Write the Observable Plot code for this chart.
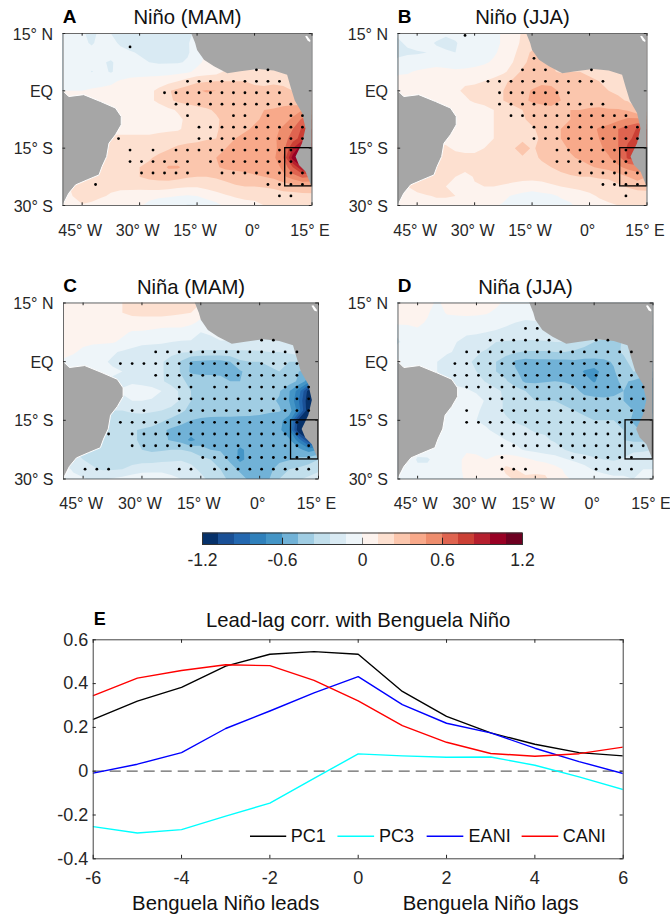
<!DOCTYPE html>
<html><head><meta charset="utf-8">
<script src="https://cdn.jsdelivr.net/npm/d3@7"></script>
<script src="https://cdn.jsdelivr.net/npm/@observablehq/plot@0.6"></script>
<style>
html,body{margin:0;padding:0;background:#fff}
#root{position:relative;width:670px;height:918px;overflow:hidden}
#root>div,#root>svg{position:absolute}
svg{font-family:"Liberation Sans",Arial,sans-serif;overflow:visible;background:transparent}
</style></head><body><div id="root"></div>
<script>
// ---- colour bins (levels of 0.12 K)
const palette = ["#06316a","#1a5096","#2468b0","#2f80bb","#4495c6","#71b2d7","#a0cde3","#c2dfec","#d9eaf3","#eef5f9","#fdf3ee","#fde0d0","#fbc6ad","#f8a98a","#ee8d6d","#df6450","#cb4035","#b51f2e","#980024","#6d0021"];
const levels = [-10,-9,-8,-7,-6,-5,-4,-3,-2,-1,0,1,2,3,4,5,6,7,8,9];
const levelEdges = levels.slice(1);
const barTicks = [-10,-5,0,5,10];
const barLabels = ["-1.2","-0.6","0","0.6","1.2"];

// ---- map axes
const lonTicks = [-45,-30,-15,0,15];
const lonLabels = ["45° W","30° W","15° W","0°","15° E"];
const latTicks = [15,0,-15,-30];
const latLabels = ["15° N","EQ","15° S","30° S"];

// ---- land outlines (lon, lat)
const africaLon = [20,-16.7,-15.5,-15,-13.2,-10.6,-7.1,-3.7,1,5,8.5,9.4,10.5,12.4,13.3,12.4,10.7,11.6,13.3,15,20];
const africaLat = [15.5,15.5,12.5,10.7,8.1,6.4,4.6,5.1,5.7,5.3,4.2,1.1,-2.5,-5.8,-9.8,-13.7,-17.2,-19.4,-21.1,-25.3,-25.3];
const brazilLon = [-52,-49.8,-48.5,-44.6,-40.2,-36.3,-34.8,-34.8,-36.3,-38,-38.6,-39.8,-40.6,-43.7,-46.7,-48.5,-49.8,-50.5,-52];
const brazilLat = [-0.2,-0.2,-1.5,-1,-2.8,-4.5,-6.7,-8.9,-11.5,-13.7,-17.2,-19.8,-22,-23.3,-24.6,-26.8,-29.4,-31,-31];
const lakeLon = [13.2,13.7,14.6,14.5,13.9];
const lakeLat = [14.3,14.4,13.2,12.8,13.1];

// ---- anomaly fields, one row per latitude 15N..30S every 2.5 deg, one column per longitude 50W..15E every 2.5 deg, in 0.12 K levels
const fieldA = [
[-.4,-.5,-.9,-1.2,-.8,-1,-1.2,-1.3,-1.3,-1.3,-1.3,-1.3,-1.3,-1.2,-.8,0,0,0,0,0,0,0,0,0,0,0,0],
[-.4,-.5,-.8,-1.1,-.7,-.8,-1.1,-1.4,-1.3,-1.3,-1.3,-1.3,-1.2,-1.1,-.5,0,0,0,0,0,0,0,0,0,0,0,0],
[-.3,-.4,-.6,-.7,-.6,-.6,-.8,-.9,-1.1,-1.2,-1.2,-1.2,-1.2,-1.1,-.6,.1,.2,.2,.2,.2,.2,.2,.2,.2,.2,.2,.2],
[-.3,-.4,-.5,-.6,-.9,-1.1,-.7,-.7,-.8,-1,-1.1,-1.1,-1.1,-.9,-.3,.3,.4,.4,.4,.4,.4,.4,.4,.4,.4,.4,.4],
[-.3,-.4,-.5,-1.05,-.7,-1.1,-.6,-.5,-.5,-.5,-.5,-.4,-.3,-.2,.3,.5,.6,1.2,1.3,1.3,1.1,1.3,1.2,.9,.9,.8,.5],
[-.2,-.2,-.3,-.3,-.3,-.2,.1,.3,.4,.5,.6,.7,1,1.5,1.8,1.9,2,2,2,2,1.8,1.8,1.9,1.8,1.4,1,.5],
[0,0,0,.1,.2,.3,.4,.5,.6,.8,1.2,1.9,2.3,2.5,2.9,3.1,3,2.7,2.5,2.4,2.3,2.2,2.2,2.2,2,1.5,1],
[0,0,.1,.2,.2,.2,.4,.5,.6,.8,1.2,1.8,2.2,2.4,2.5,2.5,2.5,2.5,2.4,2.4,2.4,2.4,2.4,2.5,2.5,2,1.5],
[.3,.3,.3,.3,.3,.3,.3,.4,.5,.5,.6,.8,1.1,1.4,1.7,1.9,2.1,2.4,2.6,2.7,2.9,3,3.1,3.3,3.5,4,3],
[.3,.3,.3,.3,.3,.3,.2,.2,.2,.2,.3,.4,.8,1.2,1.4,1.6,1.9,2.2,2.5,2.7,2.9,3.1,3.3,3.6,4.2,5.2,5],
[.7,.7,.7,.7,.7,.7,.7,.7,.7,.7,.8,.8,.9,1.2,1.4,1.7,1.9,2.3,2.7,2.9,3.1,3.4,3.7,4.2,5,6.2,6],
[1.2,1.2,1.2,1.2,1.2,1.2,1.2,1.2,1.2,1.2,1.3,1.5,1.5,1.6,1.7,1.9,2,2.6,3,3.2,3.3,3.5,3.8,4.5,5.5,6.5,6],
[1.2,1.2,1.2,1.2,1.2,1.3,1.3,1.4,1.4,1.5,1.7,1.9,2.2,2.4,2.5,2.6,2.7,3,3.3,3.4,3.4,3.5,3.7,4.6,7,9,8],
[1.3,1.3,1.3,1.3,1.3,1.4,1.5,1.6,1.7,1.9,2.2,2.5,2.5,2.6,2.7,2.8,3,3.2,3.4,3.4,3.4,3.5,3.8,5,8.5,10,9],
[1.2,1.2,1.2,1.2,1.3,1.4,1.5,1.8,2,2.2,2.5,3.1,3.1,2.7,2.6,2.6,2.9,3.2,3.3,3.3,3.3,3.4,3.6,4.2,6,8,8],
[1,1.2,1,1.1,1.2,1.3,1.5,1.7,2,2.2,2.3,2.4,2.3,2.1,2,2,2.1,2.3,2.5,2.7,2.9,3,3.2,3.8,4.5,5.2,5],
[.8,1.1,1.6,1.6,1.3,1.2,1.2,1.3,1.4,1.5,1.5,1.4,1.2,1.1,1.1,1.3,1.5,1.7,1.9,2,2,2.1,2.2,2.4,2.6,2.9,3],
[.4,1,1.5,1.3,1.1,.9,.7,.5,.3,.2,.2,.1,0,-.1,0,.3,.6,.9,1.1,1.2,1.2,1.3,1.5,1.6,1.6,1.6,1.6],
[.2,.6,.9,.8,.6,.4,.3,.1,.1,-.2,-.6,-.7,-.8,-1.1,-1.1,-.6,-.3,.2,.5,.7,.8,1,1.2,1.2,1.1,1.1,1.1]];
const fieldB = [
[-.9,-.6,-.5,-.4,-.6,-.9,-.7,-.5,-.4,-.3,-.2,.1,.6,1.1,1,1,1,1,1,1,1,1,1,1,1,1,1],
[-1.1,-.9,-.6,-.7,-1.1,-1.2,-1.1,-.6,-.4,-.3,-.2,.1,.6,1.2,1.3,1.3,1.3,1.3,1.3,1.3,1.3,1.3,1.3,1.3,1.3,1.3,1.3],
[-1.1,-1.1,-1.1,-1,-.7,-.9,-1,-.5,-.3,-.2,-.1,.2,.8,1.4,2.2,2.2,2,2,2,2,2,2,2,2,2,2,2],
[-.9,-.7,-.5,-.4,-.3,-.3,-.3,-.2,-.2,-.1,.1,.4,1,1.7,2.4,2.4,2,1.8,1.8,1.8,1.8,1.8,1.5,1.5,1.5,1.5,1.5],
[-.1,-.1,.1,.2,.3,.2,.1,.1,.2,.3,.5,.8,1.4,2.2,2.4,2.3,2.1,1.9,2,2,1.9,1.9,1.3,1,.9,.9,.9],
[.2,.3,.5,.7,.6,.6,.7,.9,.9,1,1.3,1.8,2.2,2.3,2.5,2.8,2.8,2.7,2.3,2.2,2.1,2,1.7,1.5,1.1,1,.9],
[.3,.3,.4,.5,.6,.7,.9,1.1,1.2,1.2,1.5,2,2.3,2.6,3.1,3.3,3.2,2.9,2.5,2.3,2.2,2.1,2,1.8,1.2,1,1],
[.3,.3,.3,.3,.3,.4,.6,.9,1.1,1.1,1.4,2,2.4,2.7,3.2,3.3,3.3,3,2.9,2.7,2.6,2.5,2.3,2.2,1.9,1.4,1.2],
[.3,.3,.3,.3,.3,.3,.4,.5,.7,.9,1,1.2,1.6,2,2.3,2.6,2.8,2.9,3,3,3.1,3.2,3.1,3.1,2.9,2.1,1.5],
[.3,.3,.3,.3,.3,.3,.3,.4,.6,.8,1,1.3,1.6,1.9,2.2,2.5,2.7,2.8,3,3,3.3,3.5,3.3,3.8,4.2,4.3,4],
[.6,.6,.6,.6,.6,.6,.6,.7,.8,.8,1,1.2,1.4,1.7,1.9,2.2,2.5,3,3.3,3.5,3.7,4.1,4.6,5,5.5,6.1,6],
[.8,.8,.8,.8,.8,.8,.8,.8,.9,.9,1,1.1,1.2,1.8,1.8,2.1,2.5,3,3.2,3.5,3.7,4,4.5,5,5.8,6.3,6],
[1.2,1.2,1.2,1.2,1.2,1.1,.9,.9,.9,1,1.1,1.4,1.9,2.4,1.9,2.2,2.5,2.8,3.1,3.2,3.5,3.8,4.3,5,6.2,6.8,6],
[1.2,1.2,1.2,1.2,1.2,1.3,1.2,1.1,1.1,1.1,1.2,1.5,1.7,1.9,1.8,2.1,2.3,2.6,2.9,3.1,3.3,3.5,3.9,4.6,6.2,6.5,6],
[1.2,1.2,1.2,1.2,1.3,1.4,1.5,1.4,1.4,1.8,1.6,1.5,1.4,1.5,1.6,1.8,2,2.2,2.4,2.7,2.9,3.1,3.3,3.8,4.3,4.6,4.5],
[1,1.3,1,1,1.1,1.2,1,.6,1.1,1.4,1.4,1.4,1.3,1.3,1.3,1.4,1.6,1.8,1.9,2,2,2.1,2.2,2.5,3,3.4,3],
[.6,1,1.5,2,1.4,1,.8,.7,.9,1,1,.9,.8,.6,.5,.6,.8,1,1.2,1.3,1.4,1.5,1.5,1.8,2.1,2.4,2.5],
[.4,.6,.7,.9,1.1,1.1,1,.7,.5,.5,.4,.2,-.1,-.3,-.5,-.3,-.2,.1,.2,.5,.8,1.1,1.2,1.3,1.4,1.4,1.4],
[.2,.3,.4,.5,.6,.6,.5,.3,.2,.1,.1,-.1,-.4,-.6,-1.1,-.7,-.5,-.3,-.1,.2,.5,.7,.9,1,1,1,1]];
const fieldC = [
[.3,.3,.3,.3,.5,.7,1,1.2,1.3,1.3,1.3,1.3,1.2,1.2,1,.5,0,0,0,0,0,0,0,0,0,0,0],
[.3,.3,.3,.4,.5,.7,1,1.2,1.3,1.3,1.3,1.2,1.1,1,.3,-.3,-.5,-.5,-.5,-.5,-.5,-.5,-.5,-.5,-.5,-.5,-.5],
[.3,.3,.3,.4,.5,.6,.8,.6,.5,.5,.5,.5,.4,.2,-.2,-.5,-.5,-.5,-.5,-.5,-.5,-.5,-.5,-.5,-.5,-.5,-.5],
[.3,.3,.4,.4,.4,.4,.2,-.1,-.1,-.2,-.4,-.5,-.4,-.6,-1,-.9,-.5,-.5,-.8,-.8,-.8,-.8,-.8,-.8,-.8,-.8,-.8],
[.3,.3,.2,.1,.1,.1,-.2,-.7,-.9,-.9,-.9,-1,-1.1,-1.1,-1.1,-1.2,-1.1,-1.1,-1.5,-1.4,-1.3,-1.4,-1.5,-1.2,-1,-1,-1],
[.2,.1,-.2,-.3,-.5,-.9,-1.1,-1.2,-1.2,-1.3,-1.5,-1.7,-1.9,-2,-2.2,-2.2,-2.2,-2.2,-2.1,-2.1,-2.1,-2,-2,-1.8,-1.5,-1.5,-1.5],
[-.1,-.3,-.5,-.9,-.9,-1.1,-1.2,-1.3,-1.5,-1.7,-1.9,-2.4,-3.1,-4.1,-4.2,-4.3,-4.3,-4,-3.2,-3,-3,-2.9,-2.9,-3,-3,-2.5,-2],
[-.3,-.4,-.5,-.7,-.8,-.9,-1,-1.2,-1.4,-1.6,-1.9,-2.4,-3.1,-4.2,-4.4,-4.4,-4.4,-4.3,-4.1,-3.7,-3.2,-3.1,-3,-3.2,-4,-4.5,-4],
[-.8,-.9,-1,-1.1,-1.1,-1.1,-1.2,-1.2,-1.4,-1.6,-1.9,-2.3,-2.8,-3.3,-3.3,-3.3,-3.5,-4,-4,-3.6,-3.2,-3.1,-3.2,-3.5,-4.2,-5.5,-7.5],
[-1,-1,-1,-1,-1,-1,-.9,-.5,-.4,-.6,-1,-1.6,-2.2,-3,-3.2,-3.2,-3.2,-3.2,-3.2,-3.3,-3.5,-3.6,-3.9,-4.9,-6.5,-9.5,-9],
[-1.3,-1.3,-1.3,-1.3,-1.3,-1.3,-1.2,-1,-1,-1.1,-1.3,-1.7,-2.1,-3,-3.3,-3.4,-3.2,-3.1,-3.2,-3.5,-3.8,-3.8,-4.1,-5,-7,-9.9,-9.9],
[-2,-2,-2,-2,-2,-2,-2,-1.9,-1.8,-1.9,-2,-2.2,-2.8,-3.3,-3.4,-3.4,-3.3,-3.3,-3.3,-3.4,-3.6,-3.8,-3.9,-4.5,-6.5,-9.9,-9.9],
[-2.5,-2.5,-2.5,-2.5,-2.3,-2.3,-2.3,-2.3,-2.4,-2.5,-2.8,-3.3,-3.6,-4,-4.2,-4.3,-4.4,-4.4,-4.5,-4.5,-4.5,-4.6,-4.7,-5.5,-9.5,-9.9,-9.9],
[-2.5,-2.5,-2.5,-2.5,-2.6,-2.5,-2.6,-2.9,-3.1,-3.3,-3.8,-4.2,-4.5,-4.4,-4.4,-4.4,-4.5,-4.5,-4.5,-4.5,-4.5,-4.6,-4.8,-5.8,-9.9,-9.9,-9.9],
[-2,-2.3,-2.4,-2.4,-2.4,-2.5,-2.7,-2.9,-3.1,-3.4,-3.8,-4.1,-4.4,-5.3,-4.6,-4.3,-4.4,-4.4,-4.4,-4.4,-4.4,-4.5,-4.5,-4.8,-6.5,-9,-9],
[-1.5,-2,-2.1,-2.2,-2.2,-2.4,-2.6,-2.8,-3,-3.2,-3.1,-3,-3,-3.2,-3.6,-4,-4.1,-4.4,-5.2,-4.7,-4.4,-4.4,-4.4,-4.5,-4.7,-5.5,-5],
[-1.3,-1.5,-2,-2.2,-2.2,-2.2,-2.3,-2.4,-2.4,-2.4,-2.3,-2.2,-2.1,-2.3,-2.7,-3,-3.5,-4.2,-5.3,-4.6,-4.4,-4.4,-4.3,-4.1,-3.8,-3.5,-3],
[-.7,-1.1,-1.5,-1.9,-2.1,-2.1,-2,-1.7,-1.4,-1.3,-1.2,-1.3,-1.4,-1.7,-2.2,-2.7,-3,-3.6,-4.2,-4.4,-4.4,-4.3,-3.5,-3,-2.8,-2.5,-2.2],
[-.5,-.8,-.9,-1.2,-1.1,-.9,-.7,-.4,-.3,-.4,-.6,-.8,-1,-1.2,-1.7,-2.3,-2.7,-3.2,-3.6,-4.2,-4.4,-4,-3,-2.5,-2.1,-1.8,-1.5]];
const fieldD = [
[.3,.3,.3,.2,-.1,.2,.2,.3,.3,.3,.2,-.2,-.4,-.5,-.3,-.3,-.3,-.3,-.3,-.3,-.3,-.3,-.3,-.3,-.3,-.3,-.3],
[.3,.3,.2,.1,-.4,.1,.2,.2,.2,.1,-.2,-.5,-.6,-.7,-.5,-.5,-.5,-.5,-.5,-.5,-.5,-.5,-.5,-.5,-.5,-.5,-.5],
[.2,.2,.2,-.1,-.5,-.5,-.5,-.4,-.5,-.6,-.7,-.8,-1,-1.1,-1.1,-.8,-.8,-.8,-.8,-.8,-.8,-.8,-.8,-.8,-.8,-.8,-.8],
[-.8,-.6,-.2,-.3,-.5,-.6,-.8,-.9,-.9,-1,-1.1,-1.3,-1.5,-1.7,-1.6,-1.4,-1.2,-1.2,-1.5,-1.5,-1.5,-1.5,-1.5,-1.5,-1.5,-1.5,-1.5],
[-1.1,-.7,-.5,-.5,-.7,-.9,-1,-1.2,-1.4,-1.7,-2,-2.1,-2.1,-2.1,-2.1,-2.1,-2,-2,-2.5,-2.7,-3,-3.7,-3.6,-2.8,-2,-2,-2],
[-.3,-.5,-.6,-.7,-.8,-.9,-1.1,-1.4,-1.9,-2.1,-2.4,-2.7,-2.9,-3.1,-3.1,-3.1,-3,-3,-3.1,-3.3,-3.4,-3.4,-3.2,-2.9,-2.3,-2,-2],
[.1,-.2,-.6,-.9,-1,-1.3,-1.6,-1.9,-2.1,-2.6,-3,-3.4,-4.2,-4.4,-4.3,-4.3,-4.3,-4.3,-4.2,-4.3,-4.3,-4.2,-3.9,-3.2,-2.7,-2.5,-2],
[-.8,-.9,-1,-1,-1,-1.1,-1.3,-1.6,-2,-2.5,-3,-3.3,-3.9,-4.4,-4.5,-4.4,-4.4,-4.4,-4.5,-5.1,-5.4,-4.6,-4.1,-3.4,-3,-3,-3],
[-1,-1,-1,-1,-1,-1,-1.1,-1.3,-1.6,-2.1,-2.5,-2.9,-3.5,-4.2,-4.2,-4.1,-4,-4.1,-4.2,-4.6,-5.1,-4.5,-4.1,-3.9,-4.1,-4.8,-4.5],
[-1,-1,-1,-1,-1,-1,-.9,-.9,-1.1,-1.3,-1.8,-2.2,-2.6,-3,-3.2,-3.2,-3.3,-3.4,-3.8,-4.2,-4.3,-4.2,-4.1,-4,-4.1,-4.3,-4.8],
[-1,-1,-1,-1,-1,-1,-.8,-.5,-.7,-1.1,-1.6,-2.2,-2.6,-2.9,-3,-3,-3,-3.1,-3.5,-3.7,-3.8,-3.9,-3.9,-4,-4.2,-4.5,-4.3],
[-1,-1,-1,-1,-1,-1,-.9,-.8,-.9,-1.2,-1.8,-2.1,-2.3,-2.5,-2.7,-2.7,-2.8,-2.9,-3,-3.1,-3.2,-3.3,-3.3,-3.5,-4,-4.5,-4.2],
[-1,-1,-1,-1,-1,-.9,-.8,-.8,-1,-1.2,-1.5,-1.9,-2.1,-2.2,-2.2,-2.3,-2.5,-2.7,-2.8,-2.9,-3,-3,-3,-3.2,-4.3,-4,-3.5],
[-1,-1,-1,-1,-.9,-.7,-.6,-.6,-.7,-.9,-1.2,-1.5,-1.7,-1.9,-2.1,-2.1,-2.1,-2.3,-2.5,-2.7,-2.8,-2.9,-2.9,-3,-3.4,-4.4,-4],
[-.8,-.8,-.8,-.8,-.8,-.7,-.6,-.5,-.5,-.6,-.7,-1,-1.2,-1.5,-1.7,-1.9,-2.1,-2.2,-2.4,-2.5,-2.6,-2.8,-2.9,-3,-3.2,-3.2,-3],
[-.3,-.5,-.7,-.6,-.4,-.3,-.2,-.1,-.1,-.1,-.3,-.6,-.8,-1.1,-1.3,-1.5,-1.7,-2,-2.4,-2.6,-2.7,-2.6,-2.5,-2.4,-2.2,-2.2,-2],
[-.2,-.5,-1.1,-1.1,-.7,-.4,-.2,.2,.1,0,.2,.6,.5,.2,-.1,-.3,-.5,-.9,-1.2,-1.4,-1.8,-2,-2.1,-1.9,-1.5,-1.3,-1.2],
[-.4,-.6,-.8,-.8,-.6,-.4,-.2,.2,.3,.3,.5,1.2,1,.7,.7,.7,.3,-.1,-.3,-.7,-1.1,-1.3,-1.4,-1.2,-1.1,-1,-1],
[-.3,-.4,-.5,-.5,-.4,-.3,-.2,.1,.2,.3,.5,.8,1.1,1.2,1.3,1.2,.5,.1,-.1,-.3,-.5,-.6,-.8,-.9,-1,-1,-1]];

// ---- significance stipples: [latitude, lon-runs]; lon = 0.5 + 3k on the 3-degree grid
const dotsA = [[11.5,[[-11,-11]]],[5.5,[[0,1]]],[2.5,[[-6,2]]],[-.5,[[-8,2]]],[-3.5,[[-7,3]]],[-6.5,[[-6,-6],[-2,-1],[1,1],[3,4]]],[-9.5,[[-5,4]]],[-12.5,[[-12,-12],[-5,4]]],[-15.5,[[-11,-11],[-9,-9],[-7,3]]],[-18.5,[[-11,-6],[-4,3]]],[-21.5,[[-10,-6],[-3,4]]],[-24.5,[[-14,-14],[1,4]]],[-27.5,[[2,3]]]];
const dotsB = [[14.5,[[-11,-11]]],[8.5,[[-5,-5]]],[5.5,[[-6,-4],[0,0]]],[2.5,[[-9,1]]],[-.5,[[-8,-2]]],[-3.5,[[-8,1]]],[-6.5,[[-7,3]]],[-9.5,[[-5,4]]],[-12.5,[[-5,4]]],[-15.5,[[-3,3]]],[-18.5,[[-3,3]]],[-21.5,[[-1,4]]],[-24.5,[[1,4]]],[-27.5,[[3,3]]]];
const dotsC = [[5.5,[[0,1]]],[2.5,[[-9,3]]],[-.5,[[-12,3]]],[-3.5,[[-9,3]]],[-6.5,[[-7,-6],[-4,-3],[-1,4]]],[-9.5,[[-7,4]]],[-12.5,[[-11,-10],[-7,4]]],[-15.5,[[-12,3]]],[-18.5,[[-13,-13],[-11,3]]],[-21.5,[[-11,4]]],[-24.5,[[-5,4]]],[-27.5,[[-15,-13],[-7,-6],[-4,4]]]];
const dotsD = [[8.5,[[-6,-5]]],[5.5,[[-9,-4],[0,1]]],[2.5,[[-11,3]]],[-.5,[[-12,2]]],[-3.5,[[-12,3]]],[-6.5,[[-11,4]]],[-9.5,[[-9,4]]],[-12.5,[[-11,-11],[-8,4]]],[-15.5,[[-11,3]]],[-18.5,[[-8,3]]],[-21.5,[[-8,4]]],[-24.5,[[-8,-8],[-2,3]]],[-27.5,[[-8,-6],[0,3]]]];

// ---- lead-lag correlations
const lags = [-6,-5,-4,-3,-2,-1,0,1,2,3,4,5,6];
const pc1  = [.237,.32,.383,.48,.534,.546,.534,.364,.25,.175,.123,.085,.07];
const pc3  = [-.253,-.282,-.267,-.205,-.146,-.033,.079,.07,.064,.065,.027,-.026,-.084];
const eani = [-.009,.032,.085,.195,.275,.358,.432,.304,.219,.175,.105,.044,-.011];
const cani = [.345,.425,.46,.486,.482,.415,.321,.208,.132,.081,.068,.08,.11];
const seriesNames = ["PC1","PC3","EANI","CANI"];
const seriesColors = ["#000000","#00ffff","#0000ff","#ff0000"];
const lagTicks = [-6,-4,-2,0,2,4,6];
const corrTicks = [-.4,-.2,0,.2,.4,.6];
const corrLabels = ["-0.4","-0.2","0","0.2","0.4","0.6"];

// ---- layout helpers
const root = document.getElementById("root");
const INK = "#262626";
function place(el, left, top){ el.style.left = left+"px"; el.style.top = top+"px"; root.appendChild(el); }
const poly = (lons, lats) => lons.map((x,i)=>({x, y:lats[i]}));
const expand = rows => rows.flatMap(([lat,runs]) => runs.flatMap(([a,b]) => d3.range(a,b+1).map(k=>({x:.5+3*k, y:lat}))));

function mapPanel({field, dots, title, letter, left, top, w, h, titleX}){
  const pad = {r:20, b:40};
  const rows = field.length, cols = field[0].length;
  return Plot.plot({
    width: left+w+pad.r, height: top+h+pad.b,
    marginLeft:left, marginTop:top, marginRight:pad.r, marginBottom:pad.b,
    x:{domain:[-50,15], axis:null},
    y:{domain:[-30,15], axis:null},
    color:{type:"threshold", domain:levelEdges, range:palette},
    style:{background:"transparent", fontFamily:'"Liberation Sans",Arial,sans-serif'},
    marks:[
      Plot.contour(field.flat(), {width:cols, height:rows, x1:-51.25, x2:16.25, y1:16.25, y2:-31.25,
        fill:Plot.identity, thresholds:levels, clip:true}),
      Plot.line(poly(africaLon,africaLat), {x:"x", y:"y", fill:"#a6a6a6", stroke:"none", clip:true}),
      Plot.line(poly(brazilLon,brazilLat), {x:"x", y:"y", fill:"#a6a6a6", stroke:"#ffffff", strokeWidth:1, clip:true}),
      Plot.line(poly(lakeLon,lakeLat), {x:"x", y:"y", fill:"#ffffff", stroke:"none", clip:true}),
      Plot.dot(expand(dots), {x:"x", y:"y", r:1.4, fill:"#000000", stroke:"none"}),
      Plot.rect([0], {x1:()=>8, x2:()=>15, y1:()=>-25, y2:()=>-15, fill:"none", stroke:"#000000", strokeWidth:1.3}),
      Plot.frame({stroke:"#6a6a6a", strokeWidth:1}),
      Plot.ruleX(lonTicks, {x:d=>d, y1:-30, y2:-29.3, stroke:INK}),
      Plot.ruleX(lonTicks, {x:d=>d, y1:15, y2:14.3, stroke:INK}),
      Plot.ruleY(latTicks, {y:d=>d, x1:-50, x2:-49.3, stroke:INK}),
      Plot.ruleY(latTicks, {y:d=>d, x1:15, x2:14.3, stroke:INK}),
      Plot.text(lonTicks, {x:d=>d, y:()=>-30, dy:25, dx:-2, text:(d,i)=>lonLabels[i], fontSize:16, fill:INK}),
      Plot.text(latTicks, {x:()=>-50, y:d=>d, dx:-10, dy:1, text:(d,i)=>latLabels[i], textAnchor:"end", fontSize:16, fill:INK}),
      Plot.text([title], {x:()=>titleX, y:()=>15, dy:-16, text:d=>d, fontSize:20.3, fill:"#111"}),
      Plot.text([letter], {x:()=>-48.3, y:()=>15, dy:-17, text:d=>d, fontSize:19, fontWeight:"bold", fill:"#000", textAnchor:"middle"})
    ]
  });
}

place(mapPanel({field:fieldA, dots:dotsA, title:"Niño (MAM)", letter:"A", left:62.5, top:33, w:249, h:172, titleX:-17.5}), 0, 0);
place(mapPanel({field:fieldB, dots:dotsB, title:"Niño (JJA)", letter:"B", left:62.5, top:33, w:249, h:172, titleX:-17.5}), 335, 0);
place(mapPanel({field:fieldC, dots:dotsC, title:"Niña (MAM)", letter:"C", left:63, top:32.5, w:255, h:176, titleX:-17.5}), 0, 270);
place(mapPanel({field:fieldD, dots:dotsD, title:"Niña (JJA)", letter:"D", left:62.5, top:32.5, w:255, h:176, titleX:-17.5}), 335, 270);

// ---- colour bar
const bar = Plot.plot({
  width:320+40, height:11.5+30, marginLeft:20, marginRight:20, marginTop:0.5, marginBottom:29.5,
  x:{domain:[-10,10], axis:null},
  y:{domain:[0,1], axis:null},
  color:{type:"threshold", domain:levelEdges, range:palette},
  style:{background:"transparent", fontFamily:'"Liberation Sans",Arial,sans-serif'},
  marks:[
    Plot.rect(levels, {x1:d=>d, x2:d=>d+1, y1:()=>0, y2:()=>1, fill:d=>d}),
    Plot.ruleX([-5,5], {x:d=>d, y1:0, y2:.55, stroke:"#222"}),
    Plot.ruleX([0], {x:d=>d, y1:0, y2:.55, stroke:"#777"}),
    Plot.frame({stroke:"#333", strokeWidth:1}),
    Plot.text(barTicks, {x:d=>d, y:()=>0, dy:16, text:(d,i)=>barLabels[i], fontSize:17.5, fill:INK})
  ]
});
place(bar, 182, 532);

// ---- lead-lag panel
const long = [pc1,pc3,eani,cani].flatMap((v,s)=>v.map((c,i)=>({lag:lags[i], c, s:seriesNames[s]})));
const legendX1 = [-2.45,-.47,1.55,3.7];
const legendX2 = [-1.63,.36,2.38,4.53];
const legendTx = [-1.53,.47,2.5,4.63];
const lead = Plot.plot({
  width:670, height:918-620, marginLeft:92.7, marginRight:670-622.7, marginTop:19.3, marginBottom:918-858.3,
  x:{domain:[-6,6], axis:null},
  y:{domain:[-.4,.6], axis:null},
  color:{type:"identity"},
  style:{background:"transparent", fontFamily:'"Liberation Sans",Arial,sans-serif'},
  marks:[
    Plot.ruleY([0], {y:d=>d, stroke:"#666", strokeWidth:1.2, strokeDasharray:"11 6"}),
    ...seriesNames.map((n,i)=>Plot.line(long.filter(d=>d.s===n), {x:"lag", y:"c", stroke:seriesColors[i], strokeWidth:1.4, clip:true})),
    Plot.frame({stroke:"#444", strokeWidth:1}),
    Plot.ruleX(lagTicks, {x:d=>d, y1:-.4, y2:-.384, stroke:INK}),
    Plot.ruleX(lagTicks, {x:d=>d, y1:.6, y2:.584, stroke:INK}),
    Plot.ruleY(corrTicks, {y:d=>d, x1:-6, x2:-5.93, stroke:INK}),
    Plot.ruleY(corrTicks, {y:d=>d, x1:6, x2:5.93, stroke:INK}),
    Plot.text(lagTicks, {x:d=>d, y:()=>-.4, dy:19, text:d=>String(d), fontSize:18, fill:INK}),
    Plot.text(corrTicks, {x:()=>-6, y:d=>d, dx:-5, text:(d,i)=>corrLabels[i], textAnchor:"end", fontSize:18, fill:INK}),
    Plot.link(seriesNames, {x1:(d,i)=>legendX1[i], x2:(d,i)=>legendX2[i], y1:()=>-.297, y2:()=>-.297, stroke:(d,i)=>seriesColors[i], strokeWidth:1.4}),
    Plot.text(seriesNames, {x:(d,i)=>legendTx[i], y:()=>-.297, text:d=>d, textAnchor:"start", fontSize:18, fill:"#111"}),
    Plot.text(["Lead-lag corr. with Benguela Niño"], {x:()=>0, y:()=>.6, dy:-19, text:d=>d, fontSize:20.3, fill:"#111"}),
    Plot.text(["E"], {x:()=>-5.85, y:()=>.6, dy:-21, text:d=>d, fontSize:18, fontWeight:"bold", fill:"#000", textAnchor:"middle"}),
    Plot.text(["Benguela Niño leads"], {x:()=>-3, y:()=>-.4, dy:45, text:d=>d, fontSize:20.3, fill:"#111"}),
    Plot.text(["Benguela Niño lags"], {x:()=>3, y:()=>-.4, dy:45, text:d=>d, fontSize:20.3, fill:"#111"})
  ]
});
place(lead, 0, 620);
</script></body></html>
